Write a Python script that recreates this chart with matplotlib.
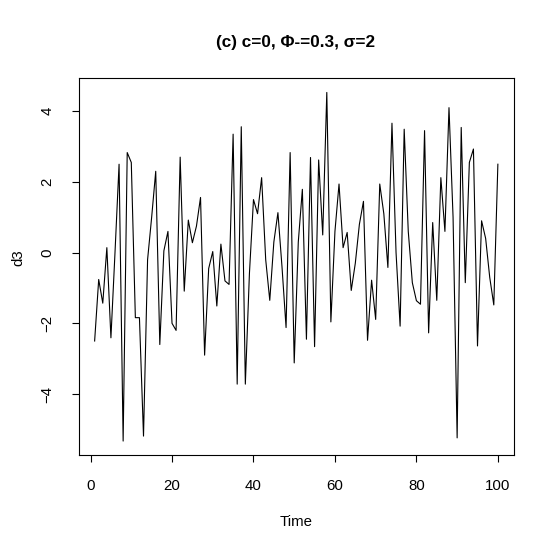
import numpy as np
import matplotlib
matplotlib.use("Agg")
import matplotlib.pyplot as plt

plt.rcParams['font.family'] = ['Liberation Sans', 'DejaVu Sans']

# serie d3 (t = 1..100)
tempo = list(range(1, 101))
d3 = [-2.50, -0.76, -1.43, 0.14, -2.41, 0.00, 2.50, -5.33, 2.83, 2.55,
      -1.84, -1.84, -5.19, -0.20, 1.00, 2.30, -2.60, 0.05, 0.60, -2.00,
      -2.20, 2.70, -1.09, 0.92, 0.28, 0.75, 1.56, -2.90, -0.45, 0.03,
      -1.51, 0.24, -0.80, -0.90, 3.35, -3.72, 3.56, -3.72, -0.60, 1.50,
      1.10, 2.12, -0.20, -1.35, 0.30, 1.13, -0.40, -2.12, 2.83, -3.12,
      0.30, 1.79, -2.45, 2.69, -2.66, 2.62, 0.50, 4.53, -1.96, 0.60,
      1.94, 0.14, 0.57, -1.07, -0.30, 0.80, 1.45, -2.48, -0.78, -1.89,
      1.94, 1.10, -0.42, 3.66, 0.00, -2.08, 3.49, 0.60, -0.85, -1.36,
      -1.46, 3.45, -2.27, 0.85, -1.35, 2.12, 0.60, 4.10, 1.00, -5.24,
      3.54, -0.85, 2.55, 2.93, -2.64, 0.90, 0.40, -0.70, -1.48, 2.50]

xticks = [0, 20, 40, 60, 80, 100]
yticks = [-4, -2, 0, 2, 4]
titulo = "(c) c=0, \u03a6-=0.3, \u03c3=2"

fig = plt.figure(figsize=(5.6, 5.6), dpi=100)
ax = fig.add_axes([78.5/560, 1-455/560, (514-78.5)/560, (455-78.5)/560])
ax.plot(tempo, d3, color='black', lw=0.8)

# limites estilo R (4% de folga)
r = max(tempo) - min(tempo)
ax.set_xlim(min(tempo) - 0.04*r, max(tempo) + 0.04*r)
r = max(d3) - min(d3)
ax.set_ylim(min(d3) - 0.04*r, max(d3) + 0.04*r)

ax.set_xticks(xticks)
ax.set_yticks(yticks)
ax.tick_params(direction='out', length=5, width=0.8, labelsize=10.8, pad=12)
ax.tick_params(axis='y', labelrotation=90, pad=12.5)
for lab in ax.get_yticklabels():
    lab.set_va('center')
for s in ax.spines.values():
    s.set_linewidth(0.8)

fig.text(296/560, 1-42/560, titulo, ha='center', va='center', fontsize=12.3, fontweight='bold')
fig.text(296/560, 1-522/560, "Time", ha='center', va='center', fontsize=10.8)
fig.text(18/560, 1-258/560, "d3", ha='center', va='center', fontsize=10.8, rotation=90)

fig.savefig("out.png", dpi=100)
